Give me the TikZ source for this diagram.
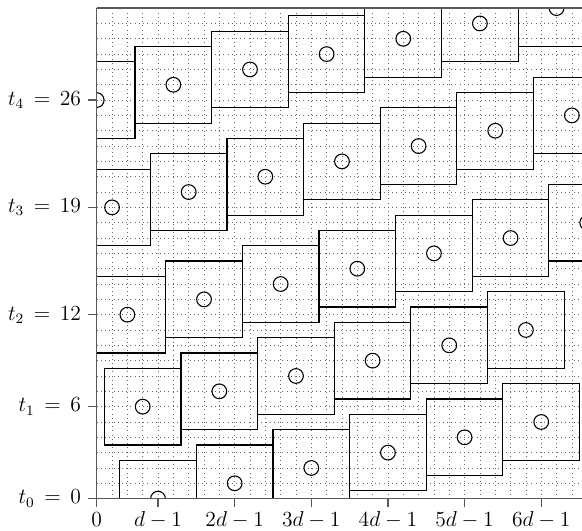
\documentclass[tikz,border=0pt]{standalone}
\usepackage{amsmath}
\usepackage{tikz}
\usetikzlibrary{positioning}
\tikzset{
  cell/.style={draw=black,line width=0.6pt},
  site/.style={draw=black,line width=0.6pt},
  gridline/.style={draw=black!60,line width=0.35pt,dotted},
  axis/.style={draw=black!65,line width=0.7pt},
  ticklab/.style={font=\large,inner sep=3.5pt}
}

\begin{document}
\begin{tikzpicture}[x=0.3cm,y=0.3cm]
\useasboundingbox (-6.31,-2.11) rectangle (31.66,32.53);
\begin{scope}
\clip (0,0) rectangle (32,32);
\draw[gridline,step=1] (0,0) grid (32,32);
\foreach \t/\x/\n in {0/4/5,6/3/5,12/2/6,19/1/6,26/0/6} {
 \foreach \k in {0,...,\n} {
  \draw[cell] (\x+5*\k-2.5,\t+\k-2.5) rectangle ++(5,5);
  \draw[site] (\x+5*\k,\t+\k) circle[radius=0.48];
 }
}
\end{scope}
\draw[axis] (0,32) -- (0,0) -- (32,0);
\draw[axis] (0,32) -- (32,32);
\foreach \t/\i in {0/0,6/1,12/2,19/3,26/4} {
 \draw[axis] (-0.6,\t) -- (0,\t);
 \node[ticklab,left] (t\i) at (-0.6,\t) {$t_{\i} \,=\, \t$};
}
\foreach \x/\lab/\name in {0/{0}/a,4/{d-1}/b,9/{2d-1}/c,14/{3d-1}/d,19/{4d-1}/e,24/{5d-1}/f,29/{6d-1}/g} {
 \draw[axis] (\x,0) -- (\x,-0.55);
 \node[ticklab,below,text height=1.6ex] (x\name) at (\x,-0.55) {$\lab$};
}
\end{tikzpicture}
\end{document}
